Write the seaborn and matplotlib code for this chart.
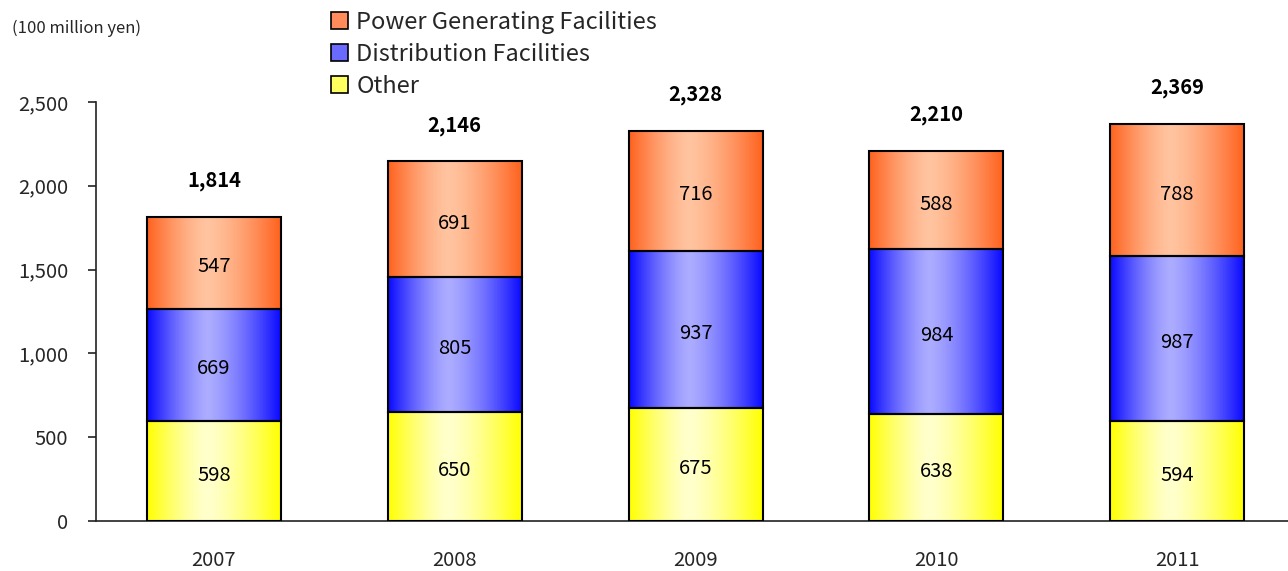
import matplotlib
matplotlib.use('Agg')
import matplotlib.pyplot as plt
from matplotlib.patches import Patch
import seaborn as sns
import numpy as np
import pandas as pd

years = ['2007', '2008', '2009', '2010', '2011']
other = [598, 650, 675, 638, 594]
distribution = [669, 805, 937, 984, 987]
power = [547, 691, 716, 588, 788]
totals = [1814, 2146, 2328, 2210, 2369]

series_names = ['Other', 'Distribution Facilities', 'Power Generating Facilities']
# (edge colour, centre colour) of the horizontal gradient
grad_colors = {
    'Other': ((255, 255, 0), (255, 255, 205)),
    'Distribution Facilities': ((10, 10, 255), (172, 172, 255)),
    'Power Generating Facilities': ((255, 98, 30), (255, 196, 160)),
}
legend_colors = {
    'Other': '#ffff60',
    'Distribution Facilities': '#6a6aff',
    'Power Generating Facilities': '#ff8c5a',
}

df = pd.DataFrame({'year': years, 'Other': other,
                   'Distribution Facilities': distribution,
                   'Power Generating Facilities': power})

sns.set_style('white')
plt.rcParams['font.family'] = ['Noto Sans CJK JP', 'DejaVu Sans']

fig = plt.figure(figsize=(12.88, 5.71), dpi=100)
ax = fig.add_axes([0.0745, 0.0876, 0.9255, 0.7338])


def gradient_image(edge, centre, n=200, peak=0.45):
    x = np.linspace(0, 1, n)
    # light band slightly left of centre, dark at both edges
    t = np.where(x < peak, (peak - x) / peak, (x - peak) / (1 - peak))
    t = np.clip(t, 0, 1) ** 1.4
    e = np.array(edge) / 255
    c = np.array(centre) / 255
    img = c[None, :] * (1 - t[:, None]) + e[None, :] * t[:, None]
    return img[None, :, :]


bottom = np.zeros(len(years))
for name in series_names:
    vals = df[name].to_numpy()
    n_before = len(ax.patches)
    sns.barplot(data=df, x='year', y=name, bottom=bottom, color='white',
                width=0.556, edgecolor='black', linewidth=1.5, ax=ax,
                saturation=1, zorder=3)
    img = gradient_image(*grad_colors[name])
    for p, v, b in zip(ax.patches[n_before:], vals, bottom):
        x0 = p.get_x()
        w = p.get_width()
        ax.imshow(img, extent=[x0, x0 + w, b, b + v], aspect='auto',
                  zorder=2, interpolation='bilinear')
        p.set_facecolor('none')
        ax.annotate(f'{v:,}', (x0 + w / 2, b + v / 2), xytext=(0, -3),
                    textcoords='offset points', ha='center', va='center',
                    fontsize=14.5, color='black', zorder=4)
    bottom = bottom + vals

for i, tot in enumerate(totals):
    ax.text(i, tot + 215, f'{tot:,}', ha='center', va='center',
            fontsize=14.5, fontweight='bold', color='black')

ax.set_xlim(-0.49, 4.46)
ax.set_ylim(0, 2500)
ax.set_yticks([0, 500, 1000, 1500, 2000, 2500])
ax.set_yticklabels([f'{v:,}' for v in [0, 500, 1000, 1500, 2000, 2500]])
ax.set_xlabel('')
ax.set_ylabel('')
sns.despine(ax=ax, top=True, right=True)
for s in ['left', 'bottom']:
    ax.spines[s].set_linewidth(1.2)
    ax.spines[s].set_color('#222222')
ax.tick_params(axis='y', direction='out', length=6, width=1.2,
               color='#222222', pad=14, labelsize=14.5, left=True)
ax.tick_params(axis='x', length=0, pad=21, labelsize=14.5)

fig.text(0.009, 0.951, '(100 million yen)', fontsize=12, ha='left', va='center')

handles = [Patch(facecolor=legend_colors[n], edgecolor='black', linewidth=1.2)
           for n in reversed(series_names)]
fig.legend(handles, list(reversed(series_names)), loc='upper left',
           bbox_to_anchor=(0.25, 0.998), frameon=False, fontsize=17,
           handlelength=0.7, handleheight=0.7, handletextpad=0.35,
           labelspacing=0.38, borderaxespad=0)

fig.savefig('out.png', dpi=100)
